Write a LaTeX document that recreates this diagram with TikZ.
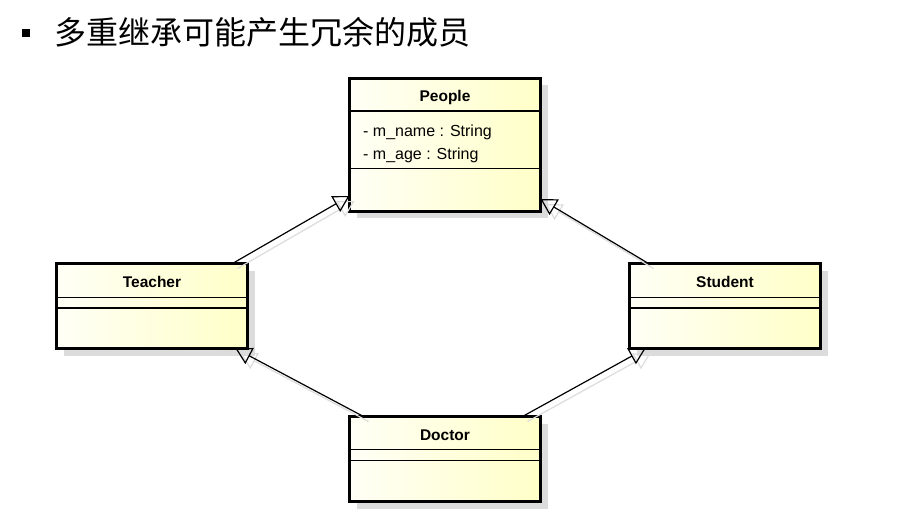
\documentclass[tikz,border=0pt]{standalone}
\usepackage{fontspec}
\setmainfont{Liberation Sans}
\newfontfamily\cjk{Noto Sans CJK SC}
\usetikzlibrary{arrows.meta,shadows}
\definecolor{boxL}{RGB}{255,255,246}
\definecolor{boxR}{RGB}{255,255,200}
\definecolor{shadowgray}{RGB}{220,220,220}
\tikzset{
  classbox/.style={draw=black, line width=3pt, outer sep=0pt, inner sep=0pt,
    left color=boxL, right color=boxR,
    drop shadow={shadow xshift=7pt, shadow yshift=-7pt, fill=shadowgray, opacity=1}},
  classtitle/.style={inner sep=0pt, anchor=base, font=\fontsize{15.5}{18}\selectfont\bfseries},
  attr/.style={inner sep=0pt, anchor=base west, font=\fontsize{16}{19}\selectfont},
  divider/.style={draw=black, line width=1.3pt},
  gen/.style={draw=black, line width=1.2pt, -{Triangle[open, length=16pt, width=18pt, line width=1.2pt]}},
  genshadow/.style={draw=shadowgray, line width=1.2pt, -{Triangle[open, length=16pt, width=18pt, line width=1.2pt]}}
}
\begin{document}
\begin{tikzpicture}[x=1pt,y=-1pt]
\useasboundingbox[fill=white] (0,0) rectangle (900,517);

% title
\node[fill=black, minimum size=8pt, inner sep=0pt] (bullet) at (26,33) {};
\node[inner sep=0pt, anchor=base west, font=\cjk\fontsize{32}{38}\selectfont] (title) at (54,44) {多重继承可能产生冗余的成员};

% boxes
\node[classbox, minimum width=191pt, minimum height=133pt] (people) at (445,144.5) {};
\node[classbox, minimum width=191pt, minimum height=85pt] (teacher) at (152,306) {};
\node[classbox, minimum width=191pt, minimum height=85pt] (student) at (725,306) {};
\node[classbox, minimum width=191pt, minimum height=85pt] (doctor) at (445,459) {};

% connector shadows
\draw[genshadow] ([xshift=-10pt,yshift=-5pt]teacher.north east) -- ([xshift=5pt,yshift=10pt]people.south west);
\draw[genshadow] ([xshift=24pt,yshift=-5pt]student.north west) -- ([xshift=5pt,yshift=7pt]people.south east);
\draw[genshadow] ([xshift=19pt,yshift=-5pt]doctor.north west) -- ([xshift=-7pt,yshift=-5pt]teacher.south east);
\draw[genshadow] ([xshift=-13pt,yshift=-5pt]doctor.north east) -- ([xshift=21pt,yshift=-5pt]student.south west);

% dividers
\draw[divider] (people.west |- 0,111) -- (people.east |- 0,111);
\draw[divider] (people.west |- 0,168.5) -- (people.east |- 0,168.5);
\draw[divider] (teacher.west |- 0,297.5) -- (teacher.east |- 0,297.5);
\draw[divider] (teacher.west |- 0,308) -- (teacher.east |- 0,308);
\draw[divider] (student.west |- 0,297.5) -- (student.east |- 0,297.5);
\draw[divider] (student.west |- 0,308) -- (student.east |- 0,308);
\draw[divider] (doctor.west |- 0,449.5) -- (doctor.east |- 0,449.5);
\draw[divider] (doctor.west |- 0,460.5) -- (doctor.east |- 0,460.5);

% texts
\node[classtitle] (peopleT) at (445,101.5) {People};
\node[attr] (attr1) at (363,136.7) {- m\_name : String};
\node[attr] (attr2) at (363,159.3) {- m\_age : String};
\node[classtitle] (teacherT) at (152,287.3) {Teacher};
\node[classtitle] (studentT) at (725,287.3) {Student};
\node[classtitle] (doctorT) at (445,440.5) {Doctor};

% generalizations
\draw[gen] ([xshift=-15pt]teacher.north east) -- ([yshift=15pt]people.south west);
\draw[gen] ([xshift=19pt]student.north west) -- ([yshift=12pt]people.south east);
\draw[gen] ([xshift=14pt]doctor.north west) -- ([xshift=-12pt]teacher.south east);
\draw[gen] ([xshift=-18pt]doctor.north east) -- ([xshift=16pt]student.south west);
\end{tikzpicture}
\end{document}
